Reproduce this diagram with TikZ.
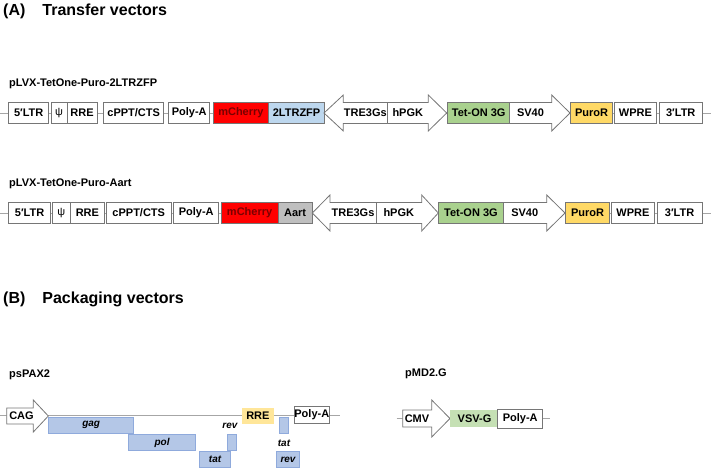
\documentclass[tikz,border=0pt]{standalone}
\usepackage{fontspec}
\setmainfont{Liberation Sans}
\definecolor{linegray}{HTML}{A6A6A6}
\definecolor{boxgray}{HTML}{767676}
\definecolor{cherryred}{HTML}{FF0000}
\definecolor{cherrytext}{HTML}{7A0000}
\definecolor{zfpblue}{HTML}{BDD7EE}
\definecolor{aartgray}{HTML}{BFBFBF}
\definecolor{tetgreen}{HTML}{A9D18E}
\definecolor{puroyellow}{HTML}{FFD966}
\definecolor{genefill}{HTML}{B4C7E7}
\definecolor{genedraw}{HTML}{8FAADC}
\definecolor{rreyellow}{HTML}{FFE699}
\definecolor{vsvgreen}{HTML}{C5E0B4}
\tikzset{
  backbone/.style={draw=linegray, line width=0.8pt},
  seg/.style={draw=boxgray, fill=white, line width=0.8pt, anchor=west, minimum height=21pt, inner sep=0pt,
    font=\bfseries\fontsize{11}{13}\selectfont},
  promoter/.style={draw=boxgray, fill=white, line width=0.8pt},
  plabel/.style={inner sep=0pt, font=\bfseries\fontsize{11}{13}\selectfont},
  gene/.style={draw=genedraw, fill=genefill, line width=0.8pt, anchor=west, minimum height=16pt, inner sep=0pt,
    font=\bfseries\itshape\fontsize{10}{12}\selectfont},
  glabel/.style={inner sep=0pt, font=\bfseries\itshape\fontsize{10}{12}\selectfont},
  vname/.style={anchor=west, inner sep=0pt, font=\bfseries\fontsize{11}{13}\selectfont},
  panel/.style={anchor=west, inner sep=0pt, font=\bfseries\fontsize{16}{19}\selectfont}
}

\begin{document}
\begin{tikzpicture}[x=1pt, y=-1pt]
\useasboundingbox (0,0) rectangle (711,470);

\node[panel] (titA) at (3,11) {(A)\hspace{17pt}Transfer vectors};
\node[panel] (titB) at (3,299) {(B)\hspace{17pt}Packaging vectors};

% pLVX-TetOne-Puro-2LTRZFP
\node[vname] (nameA1) at (9,84) {pLVX-TetOne-Puro-2LTRZFP};
\draw[backbone] (0,113) -- (711,113);
\node[seg, minimum width=40] (ltrA1) at (8.3,113) {5′LTR};
\node[seg, minimum width=16, font=\fontsize{11}{13}\selectfont] (psiA1) at (50.7,113) {ψ};
\node[seg, minimum width=30] (rreA1) at (66.7,113) {RRE};
\node[seg, minimum width=60] (cpptA1) at (103.3,113) {cPPT/CTS};
\node[seg, minimum width=41] (polyA1) at (168.3,113) {Poly-A};
\node[seg, minimum width=55.6, fill=cherryred, text=cherrytext] (mchA1) at (212.7,113) {mCherry};
\node[seg, minimum width=55.7, fill=zfpblue] (zfpA1) at (268.3,113) {2LTRZFP};
\draw[promoter] (324,113) -- (343.3,95) -- (343.3,102.5) -- (428.3,102.5) -- (428.3,95) -- (446.7,113)
  -- (428.3,131) -- (428.3,123.5) -- (343.3,123.5) -- (343.3,131) -- cycle;
\draw[promoter] (387.3,102.5) -- (387.3,123.5);
\node[plabel] (treA1) at (365.3,113) {TRE3Gs};
\node[plabel] (pgkA1) at (407.8,113) {hPGK};
\draw[promoter] (509.3,102.5) -- (551.7,102.5) -- (551.7,95) -- (570,113) -- (551.7,131) -- (551.7,123.5)
  -- (509.3,123.5) -- cycle;
\node[plabel] (svA1) at (530.5,113) {SV40};
\node[seg, minimum width=62, fill=tetgreen] (tetA1) at (447.3,113) {Tet-ON 3G};
\node[seg, minimum width=42.3, fill=puroyellow] (puroA1) at (570,113) {PuroR};
\node[seg, minimum width=42] (wpreA1) at (614,113) {WPRE};
\node[seg, minimum width=42.7] (rltrA1) at (659,113) {3′LTR};

% pLVX-TetOne-Puro-Aart
\node[vname] (nameA2) at (9,184) {pLVX-TetOne-Puro-Aart};
\draw[backbone] (0,213) -- (711,213);
\node[seg, minimum width=41.7] (ltrA2) at (8.3,213) {5′LTR};
\node[seg, minimum width=18.3, font=\fontsize{11}{13}\selectfont] (psiA2) at (51.7,213) {ψ};
\node[seg, minimum width=34] (rreA2) at (70,213) {RRE};
\node[seg, minimum width=64.7] (cpptA2) at (106,213) {cPPT/CTS};
\node[seg, minimum width=45] (polyA2) at (173.3,213) {Poly-A};
\node[seg, minimum width=57, fill=cherryred, text=cherrytext] (mchA2) at (220.7,213) {mCherry};
\node[seg, minimum width=34, fill=aartgray] (aartA2) at (277.7,213) {Aart};
\draw[promoter] (312.3,213) -- (330,195) -- (330,202.5) -- (421.7,202.5) -- (421.7,195) -- (438.3,213)
  -- (421.7,231) -- (421.7,223.5) -- (330,223.5) -- (330,231) -- cycle;
\draw[promoter] (376,202.5) -- (376,223.5);
\node[plabel] (treA2) at (353,213) {TRE3Gs};
\node[plabel] (pgkA2) at (398.8,213) {hPGK};
\draw[promoter] (502.7,202.5) -- (546.7,202.5) -- (546.7,195) -- (565,213) -- (546.7,231) -- (546.7,223.5)
  -- (502.7,223.5) -- cycle;
\node[plabel] (svA2) at (524.7,213) {SV40};
\node[seg, minimum width=64.4, fill=tetgreen] (tetA2) at (438.3,213) {Tet-ON 3G};
\node[seg, minimum width=44.3, fill=puroyellow] (puroA2) at (565,213) {PuroR};
\node[seg, minimum width=43] (wpreA2) at (611,213) {WPRE};
\node[seg, minimum width=45] (rltrA2) at (656.7,213) {3′LTR};

% psPAX2
\node[vname] (nameB1) at (9,375) {psPAX2};
\draw[backbone] (0,415.5) -- (340,415.5);
\draw[promoter] (6.7,408) -- (33.3,408) -- (33.3,400) -- (48.3,416) -- (33.3,432) -- (33.3,424) -- (6.7,424) -- cycle;
\node[plabel] (cagB1) at (21.5,416) {CAG};
\node[gene, minimum width=85] (gagB1) at (48.3,425) {gag};
\node[gene, minimum width=66.7] (polB1) at (128.3,442.5) {pol};
\node[gene, minimum width=30.7] (tatB1) at (199.3,459.5) {tat};
\node[gene, minimum width=9] (revsB1) at (226.7,442) {};
\node[glabel] (revlB1) at (230,426) {rev};
\node[seg, draw=none, fill=rreyellow, minimum width=31.6, minimum height=16] (rreB1) at (241.7,416) {RRE};
\node[gene, minimum width=9] (tatsB1) at (279.3,425.3) {};
\node[glabel] (tatlB1) at (284,443.3) {tat};
\node[gene, minimum width=23.3] (revB1) at (276,459.5) {rev};
\node[seg, minimum width=34.3, minimum height=16.6] (polyB1) at (294,415) {Poly-A};

% pMD2.G
\node[vname] (nameB2) at (405,374) {pMD2.G};
\draw[backbone] (396.7,418.5) -- (550,418.5);
\draw[promoter] (402.7,410) -- (431.7,410) -- (431.7,400) -- (450,418.5) -- (431.7,437) -- (431.7,427) -- (402.7,427) -- cycle;
\node[plabel] (cmvB2) at (417,418.5) {CMV};
\node[seg, draw=none, fill=vsvgreen, minimum width=48.3, minimum height=17] (vsvB2) at (450,418.5) {VSV-G};
\node[seg, minimum width=45, minimum height=19] (polyB2) at (497.3,418.8) {Poly-A};
\end{tikzpicture}
\end{document}
